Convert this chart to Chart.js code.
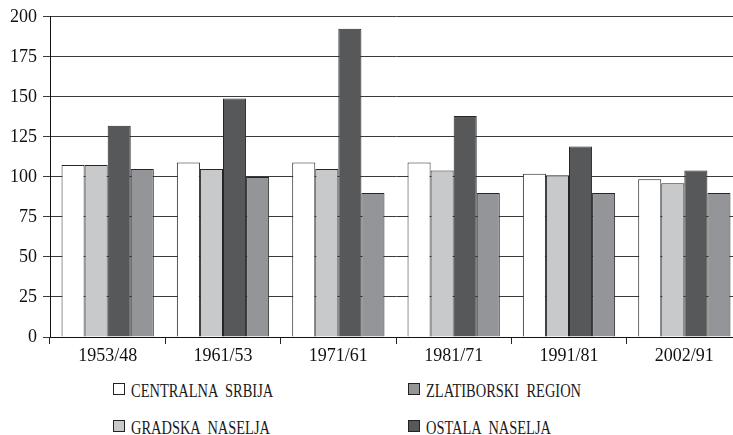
<!DOCTYPE html>
<html lang="sr">
<head>
    <meta charset="UTF-8">
    <title>Indeksi kretanja stanovnistva</title>
    <script src="https://cdn.jsdelivr.net/npm/chart.js@4.4.0/dist/chart.umd.min.js"></script>
    <style>
        body { margin: 0; overflow: hidden; background: #fff; }
        #wrap { position: relative; width: 733px; height: 435px; overflow: hidden; }
        .item { position: absolute; height: 19px; font-family: "Liberation Serif", "Times New Roman", serif; font-size: 19px; line-height: 19px; color: #1a1a1a; white-space: nowrap; }
        .box { position: absolute; width: 10px; height: 10px; border: 1px solid #222; }
        .txt { position: absolute; display: inline-block; transform: scaleX(0.76); transform-origin: left center; word-spacing: 5px; }
    </style>
</head>
<body>
<div id="wrap">
    <canvas id="myChart" width="745" height="362"></canvas>
    <div id="legend"></div>
</div>

<script>
    // categories (periods) and index values
    const categories = ['1953/48', '1961/53', '1971/61', '1981/71', '1991/81', '2002/91'];
    const centralnaSrbija = [107.5, 109, 109, 109, 102, 98.5];
    const gradskaNaselja = [107.5, 105, 105, 104, 101, 96];
    const ostalaNaselja = [132, 149, 192.5, 138, 119, 104];
    const zlatiborskiRegion = [105, 100, 90, 90, 90, 90];

    const seriesNames = ['CENTRALNA SRBIJA', 'GRADSKA NASELJA', 'OSTALA NASELJA', 'ZLATIBORSKI REGION'];
    const seriesData = [centralnaSrbija, gradskaNaselja, ostalaNaselja, zlatiborskiRegion];
    const seriesColors = ['#ffffff', '#c8c9cb', '#57585a', '#949598'];

    const yMin = 0, yMax = 200, yStep = 25;

    const datasets = seriesNames.map((name, i) => ({
        label: name,
        data: seriesData[i],
        backgroundColor: seriesColors[i],
        borderColor: '#262626',
        borderWidth: 1,
        categoryPercentage: 0.8,
        barPercentage: 1.0
    }));

    const font = { family: '"Liberation Serif", "Times New Roman", serif', size: 18 };

    new Chart(document.getElementById('myChart').getContext('2d'), {
        type: 'bar',
        data: { labels: categories, datasets: datasets },
        options: {
            responsive: false,
            animation: false,
            layout: { padding: { top: 16, right: 3, left: 0, bottom: 0 } },
            plugins: { legend: { display: false }, tooltip: { enabled: false } },
            scales: {
                x: {
                    grid: { offset: true, drawOnChartArea: false, tickLength: 7, color: '#222' },
                    border: { color: '#111' },
                    ticks: { font: font, color: '#111', padding: 1, maxRotation: 0 },
                    afterFit: s => { s.height = 25; }
                },
                y: {
                    min: yMin,
                    max: yMax,
                    grid: { color: '#3a3a3a', tickLength: 7 },
                    border: { color: '#111' },
                    ticks: { stepSize: yStep, font: font, color: '#111', padding: 6 },
                    afterFit: s => { s.width = 50; }
                }
            }
        }
    });

    // legend in two columns, like the original
    const legendOrder = [0, 3, 1, 2];
    const colX = [113, 408];
    const rowY = [381, 418];
    const legend = document.getElementById('legend');
    legendOrder.forEach((idx, k) => {
        const item = document.createElement('div');
        item.className = 'item';
        item.style.left = colX[k % 2] + 'px';
        item.style.top = rowY[Math.floor(k / 2)] + 'px';
        const box = document.createElement('span');
        box.className = 'box';
        box.style.background = seriesColors[idx];
        box.style.top = '2px';
        box.style.left = '0px';
        const txt = document.createElement('span');
        txt.className = 'txt';
        txt.style.left = '18px';
        txt.textContent = seriesNames[idx];
        item.appendChild(box);
        item.appendChild(txt);
        legend.appendChild(item);
    });
</script>
</body>
</html>
